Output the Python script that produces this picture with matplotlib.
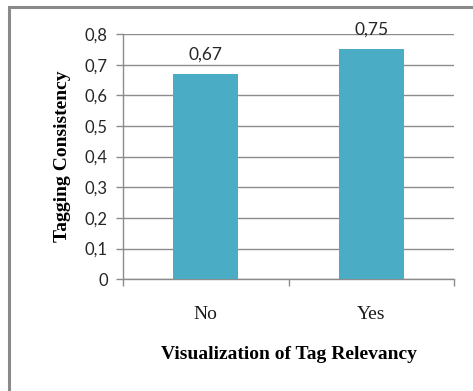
import matplotlib
matplotlib.use('Agg')
import matplotlib.pyplot as plt
from matplotlib.patches import Rectangle
from matplotlib.ticker import MultipleLocator, FixedLocator

# Chart data
categories = ['No', 'Yes']
consistency = [0.67, 0.75]
value_labels = ['0,67', '0,75']
y_ticks = [0, 0.1, 0.2, 0.3, 0.4, 0.5, 0.6, 0.7, 0.8]
y_tick_labels = ['0', '0,1', '0,2', '0,3', '0,4', '0,5', '0,6', '0,7', '0,8']

bar_color = '#4BACC6'
grid_color = '#8c8c8c'

fig = plt.figure(figsize=(4.73, 3.91), dpi=100)
ax = fig.add_axes([0.260, 0.286, 0.700, 0.627])

x = list(range(len(categories)))
ax.bar(x, consistency, width=0.39, color=bar_color, zorder=3)

# value labels above the bars
for xi, v, lab in zip(x, consistency, value_labels):
    ax.text(xi, v + 0.038, lab, ha='center', va='bottom',
            fontsize=12.5, family='Lato', color='#262626', clip_on=False)

ax.set_xlim(-0.5, 1.5)
ax.set_ylim(0, 0.8)

# y axis
ax.yaxis.set_major_locator(FixedLocator(y_ticks))
ax.set_yticklabels(y_tick_labels, family='Lato', fontsize=12, color='#262626')
ax.tick_params(axis='y', length=5, width=1, color=grid_color, pad=6)
ax.grid(axis='y', color=grid_color, linewidth=1, zorder=0)

# x axis: ticks at category boundaries, labels at the centres
ax.set_xticks(x)
ax.set_xticklabels(categories, family='Liberation Serif', fontsize=14, color='#1a1a1a')
ax.tick_params(axis='x', which='major', length=0, pad=19)
ax.xaxis.set_minor_locator(MultipleLocator(1.0, offset=0.5))
ax.tick_params(axis='x', which='minor', length=5, width=1, color=grid_color)

for side in ['top', 'right']:
    ax.spines[side].set_visible(False)
for side in ['left', 'bottom']:
    ax.spines[side].set_color(grid_color)
    ax.spines[side].set_linewidth(1)

ax.set_ylabel('Tagging Consistency', family='Liberation Serif', fontsize=14,
              fontweight='bold', labelpad=10)
ax.set_xlabel('Visualization of Tag Relevancy', family='Liberation Serif',
              fontsize=14, fontweight='bold', labelpad=17)

# outer chart border (only top and left visible in the crop)
fig.patches.append(Rectangle((9 / 473, -0.1), 1.2, 1 - 7 / 391 + 0.1,
                             transform=fig.transFigure, fill=False,
                             edgecolor='#8a8a8a', linewidth=2.2))

fig.savefig('out.png', dpi=100)
